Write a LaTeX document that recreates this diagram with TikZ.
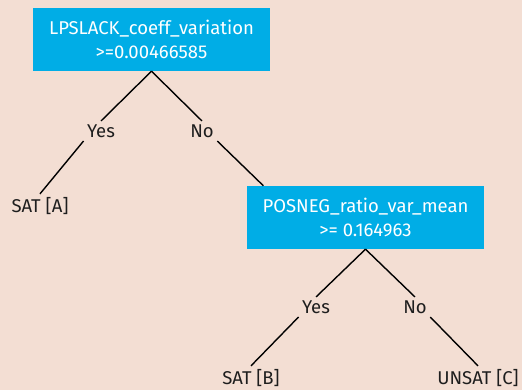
\documentclass[tikz,border=0pt]{standalone}
\usepackage{fontspec}
\setmainfont{Fira Sans}
\usetikzlibrary{calc}
\definecolor{peach}{RGB}{243,222,211}
\definecolor{splitblue}{RGB}{0,173,230}
\definecolor{inkgray}{RGB}{30,30,30}

\begin{document}
\begin{tikzpicture}[x=1pt, y=-1pt, font=\fontsize{18.5}{24}\selectfont, text=inkgray,
  split/.style={fill=splitblue, text=white, align=center, minimum width=237pt, minimum height=63pt},
  branch/.style={line width=1.4pt, draw=black}]
  \path[use as bounding box, fill=peach] (0,0) rectangle (522,390);

  % first split and its two answers
  \node[split] (lpslack) at (151.5,39.5) {LPSLACK\_coeff\_variation \\ >=0.00466585};
  \node (yes1) at (101,131) {Yes};
  \node (no1) at (202,131) {No};
  \node (sata) at (40,206) {SAT [A]};

  \path[branch] (lpslack.south) edge (yes1.north);
  \path[branch] (lpslack.south) edge (no1.north);
  \path[branch] (yes1.south west) edge (sata.north);

  % second split under the No branch
  \node[split] (posneg) at (365.5,217.5) {POSNEG\_ratio\_var\_mean \\ >= 0.164963};
  \node (yes2) at (316,307) {Yes};
  \node (no2) at (415,307) {No};
  \node (satb) at (251,378) {SAT [B]};
  \node (unsatc) at (478,378) {UNSAT [C]};

  \path[branch] (no1.south east) edge ($(posneg.north west)!0.07!(posneg.north east)$);
  \path[branch] (posneg.south) edge (yes2.north);
  \path[branch] (posneg.south) edge (no2.north);
  \path[branch] (yes2.south west) edge (satb.north);
  \path[branch] (no2.south east) edge (unsatc.north);
\end{tikzpicture}
\end{document}
